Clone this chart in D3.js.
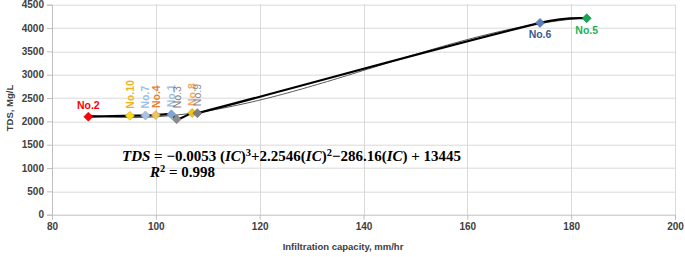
<!DOCTYPE html>
<html>
<head>
<meta charset="utf-8">
<script src="https://cdn.jsdelivr.net/npm/d3@7"></script>
<style>
  body { margin: 0; background: #fff; }
  svg { display: block; font-family: "Liberation Sans", Arial, sans-serif; }
</style>
</head>
<body>
<svg id="chart" width="685" height="257"></svg>
<script>
// sample points (infiltration capacity vs TDS)
const sampleNames = ['No.2', 'No.10', 'No.7', 'No.4', 'No.1', 'No.3', 'No.8', 'No.9', 'No.6', 'No.5'];
const infiltration = [87, 95, 98, 100, 103, 104, 107, 108, 174, 183];
const tdsValues = [2100, 2120, 2125, 2135, 2150, 2045, 2180, 2175, 4110, 4210];

const xTicks = [80, 100, 120, 140, 160, 180, 200];
const yTicks = [0, 500, 1000, 1500, 2000, 2500, 3000, 3500, 4000, 4500];

const markerColor = {
    'No.2': '#ff0000', 'No.10': '#ffd81a', 'No.7': '#a9c3e4', 'No.4': '#efc45c',
    'No.1': '#7ea6d8', 'No.3': '#8c8c8c', 'No.8': '#f2c21c', 'No.9': '#7f7f7f',
    'No.6': '#5b7fb8', 'No.5': '#14a84e'
};
const labelColor = {
    'No.2': '#ff0000', 'No.10': '#f2b21b', 'No.7': '#9dbfe6', 'No.4': '#ed7d31',
    'No.1': '#9dbfe6', 'No.3': '#7f7f7f', 'No.8': '#f4a66a', 'No.9': '#8c8c8c',
    'No.6': '#3b5b93', 'No.5': '#22b15a'
};
const labelBold = {'No.2': true, 'No.10': true, 'No.7': true, 'No.4': true, 'No.1': true, 'No.8': true, 'No.6': true, 'No.5': true};
const labelMode = {'No.2': 'above', 'No.6': 'below', 'No.5': 'below'};

const svg = d3.select('#chart');
const margin = {top: 4.7, right: 10, bottom: 42.3, left: 52};
const width = 685 - margin.left - margin.right;
const height = 257 - margin.top - margin.bottom;

const x = d3.scaleLinear().domain([80, 200]).range([0, width]);
const y = d3.scaleLinear().domain([0, 4500]).range([height, 0]);

const g = svg.append('g')
    .attr('transform', 'translate(' + margin.left + ',' + margin.top + ')');

// grid
g.append('g')
    .selectAll('line')
    .data(yTicks.slice(1))
    .join('line')
    .attr('x1', 0).attr('x2', width)
    .attr('y1', d => Math.round(y(d)) + 0.5).attr('y2', d => Math.round(y(d)) + 0.5)
    .attr('stroke', '#d9d9d9');
g.append('g')
    .selectAll('line')
    .data(xTicks.slice(1))
    .join('line')
    .attr('y1', 0).attr('y2', height)
    .attr('x1', d => Math.round(x(d)) + 0.5).attr('x2', d => Math.round(x(d)) + 0.5)
    .attr('stroke', '#d9d9d9');

// axes
let xAxis = d3.axisBottom(x).tickValues(xTicks).tickSize(5).tickPadding(3);
let yAxis = d3.axisLeft(y).tickValues(yTicks).tickFormat(d3.format('d')).tickSize(5).tickPadding(3);
g.append('g')
    .attr('transform', 'translate(0,' + height + ')')
    .call(xAxis)
    .call(a => a.select('.domain').attr('stroke', '#bfbfbf'))
    .call(a => a.selectAll('.tick line').attr('stroke', '#bfbfbf'))
    .call(a => a.selectAll('text').attr('fill', '#404040').attr('font-size', 10).attr('font-weight', 'bold'));
g.append('g')
    .call(yAxis)
    .call(a => a.select('.domain').attr('stroke', '#bfbfbf'))
    .call(a => a.selectAll('.tick line').attr('stroke', '#bfbfbf'))
    .call(a => a.selectAll('text').attr('fill', '#404040').attr('font-size', 10).attr('font-weight', 'bold'));

// axis titles
svg.append('text')
    .attr('x', 343).attr('y', 250)
    .attr('text-anchor', 'middle')
    .attr('font-size', 9.5).attr('font-weight', 'bold').attr('fill', '#404040')
    .text('Infiltration capacity, mm/hr');
svg.append('text')
    .attr('transform', 'translate(13,108) rotate(-90)')
    .attr('text-anchor', 'middle')
    .attr('font-size', 9.5).attr('font-weight', 'bold').attr('fill', '#404040')
    .text('TDS, Mg/L');

const points = sampleNames.map((n, i) => ({name: n, ic: infiltration[i], tds: tdsValues[i]}));

// cubic least-squares trendline fitted to the points (like the spreadsheet trendline)
function cubicFit(xs, ys) {
    let x0 = d3.mean(xs);
    let A = [[0, 0, 0, 0], [0, 0, 0, 0], [0, 0, 0, 0], [0, 0, 0, 0]];
    let b = [0, 0, 0, 0];
    xs.forEach((xv, k) => {
        let u = xv - x0;
        let pw = [1, u, u * u, u * u * u];
        for (let i = 0; i < 4; i++) {
            b[i] += pw[i] * ys[k];
            for (let j = 0; j < 4; j++) A[i][j] += pw[i] * pw[j];
        }
    });
    for (let c = 0; c < 4; c++) {
        for (let r = c + 1; r < 4; r++) {
            let f = A[r][c] / A[c][c];
            for (let j = c; j < 4; j++) A[r][j] -= f * A[c][j];
            b[r] -= f * b[c];
        }
    }
    let coef = [0, 0, 0, 0];
    for (let r = 3; r >= 0; r--) {
        let s = b[r];
        for (let j = r + 1; j < 4; j++) s -= A[r][j] * coef[j];
        coef[r] = s / A[r][r];
    }
    return v => {
        let u = v - x0;
        return coef[0] + coef[1] * u + coef[2] * u * u + coef[3] * u * u * u;
    };
}
const fit = cubicFit(infiltration, tdsValues);
const xMin = d3.min(infiltration), xMax = d3.max(infiltration);
const trend = d3.range(0, 101).map(i => {
    let v = xMin + (xMax - xMin) * i / 100;
    return {ic: v, tds: fit(v)};
});
g.append('path')
    .datum(trend)
    .attr('fill', 'none')
    .attr('stroke', '#595959')
    .attr('stroke-width', 1)
    .attr('d', d3.line().x(d => x(d.ic)).y(d => y(d.tds)));

// smoothed data line (spreadsheet-like bezier smoothing)
function smoothPath(pts) {
    let p = pts.map(d => [x(d.ic), y(d.tds)]);
    let n = p.length;
    let unit = (a, b) => {
        let dx = b[0] - a[0], dy = b[1] - a[1], l = Math.hypot(dx, dy) || 1;
        return [dx / l, dy / l];
    };
    let tang = p.map((pt, i) => {
        if (i === 0) return unit(p[0], p[1]);
        if (i === n - 1) return null;
        return unit(p[i - 1], p[i + 1]);
    });
    let c = unit(p[n - 2], p[n - 1]);
    let prev = tang[n - 2];
    let e = [2 * c[0] - prev[0], 2 * c[1] - prev[1]];
    let el = Math.hypot(e[0], e[1]);
    tang[n - 1] = [e[0] / el, e[1] / el];
    let path = d3.path();
    path.moveTo(p[0][0], p[0][1]);
    for (let i = 0; i < n - 1; i++) {
        let len = Math.hypot(p[i + 1][0] - p[i][0], p[i + 1][1] - p[i][1]) / 3;
        path.bezierCurveTo(
            p[i][0] + tang[i][0] * len, p[i][1] + tang[i][1] * len,
            p[i + 1][0] - tang[i + 1][0] * len, p[i + 1][1] - tang[i + 1][1] * len,
            p[i + 1][0], p[i + 1][1]);
    }
    return path.toString();
}
g.append('path')
    .attr('fill', 'none')
    .attr('stroke', '#000')
    .attr('stroke-width', 2.2)
    .attr('d', smoothPath(points));

// markers
g.append('g')
    .selectAll('path')
    .data(points)
    .join('path')
    .attr('transform', d => 'translate(' + x(d.ic) + ',' + y(d.tds) + ')')
    .attr('d', 'M0,-4.5L4.5,0L0,4.5L-4.5,0Z')
    .attr('fill', d => markerColor[d.name])
    .attr('stroke', d => d3.color(markerColor[d.name]).darker(0.6))
    .attr('stroke-width', 0.6);

// data labels
const labels = g.append('g').attr('font-size', 10.5);
points.forEach(d => {
    let px = x(d.ic), py = y(d.tds);
    let mode = labelMode[d.name] || 'vertical';
    let t = labels.append('text')
        .attr('fill', labelColor[d.name])
        .attr('font-weight', labelBold[d.name] ? 'bold' : 'normal')
        .text(d.name);
    if (mode === 'above') {
        t.attr('x', px).attr('y', py - 8).attr('text-anchor', 'middle');
    } else if (mode === 'below') {
        t.attr('x', px).attr('y', py + 15.5).attr('text-anchor', 'middle');
    } else {
        let bottom = d.name === 'No.3' ? py - 11 : py - 7;
        t.attr('transform', 'translate(' + px + ',' + bottom + ') rotate(-90)')
            .attr('dominant-baseline', 'central');
    }
});

// equation
const eq = svg.append('text')
    .attr('x', 122).attr('y', 161)
    .attr('font-family', '"Liberation Serif", "DejaVu Serif", serif')
    .attr('font-size', 15)
    .attr('font-weight', 'bold')
    .attr('fill', '#000');
const eqParts = [
    ['TDS', true], [' = −0.0053 (', false], ['IC', true], [')', false], ['3', false, 'sup'],
    ['+2.2546(', false, 'down'], ['IC', true], [')', false], ['2', false, 'sup'],
    ['−286.16(', false, 'down'], ['IC', true], [') + 13445', false]
];
eqParts.forEach(p => {
    let s = eq.append('tspan')
        .attr('font-style', p[1] ? 'italic' : 'normal')
        .text(p[0]);
    if (p[2] === 'sup') s.attr('font-size', 10.5).attr('dy', -5);
    if (p[2] === 'down') s.attr('dy', 5);
});
const r2 = svg.append('text')
    .attr('x', 150).attr('y', 177)
    .attr('font-family', '"Liberation Serif", "DejaVu Serif", serif')
    .attr('font-size', 15)
    .attr('font-weight', 'bold');
r2.append('tspan').attr('font-style', 'italic').text('R');
r2.append('tspan').attr('font-size', 10.5).attr('dy', -5).text('2');
r2.append('tspan').attr('dy', 5).text(' = 0.998');
</script>
</body>
</html>
